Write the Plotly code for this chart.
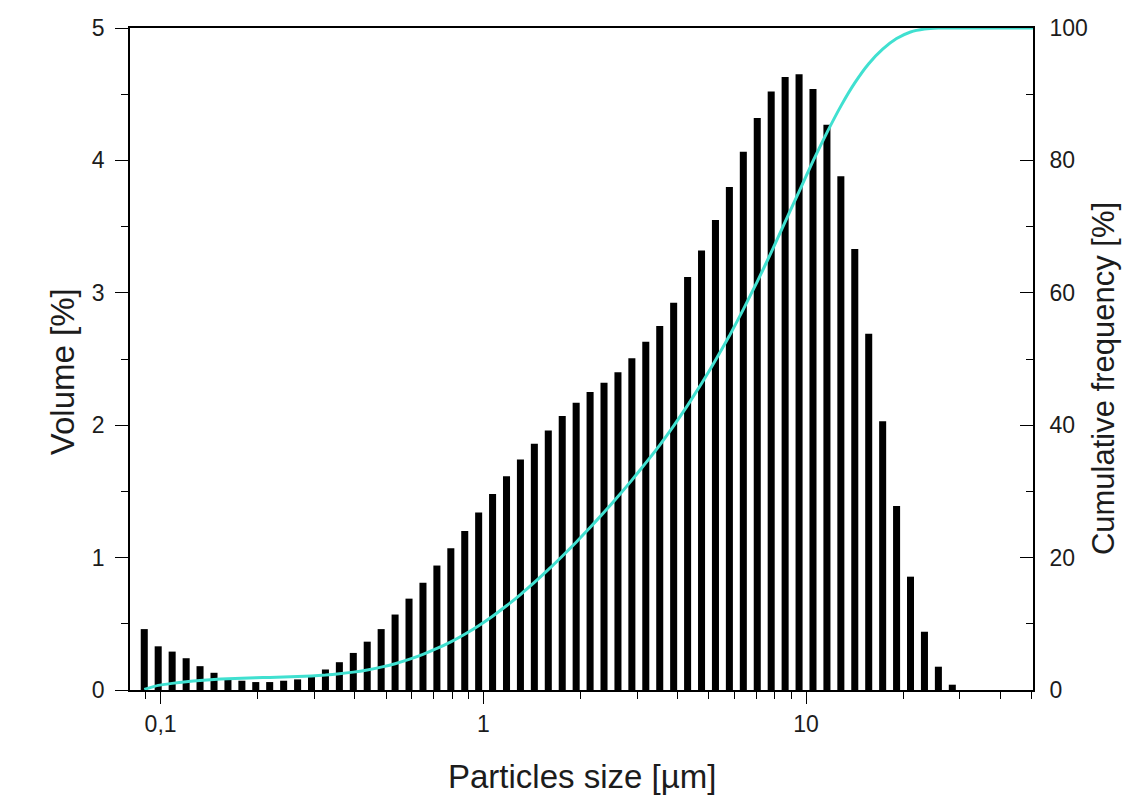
import plotly.graph_objects as go

# Particle size classes (bin centres, µm) and volume fraction per class (%)
particle_size_um = [
    0.0890, 0.0983, 0.1086, 0.1200, 0.1325, 0.1464, 0.1617, 0.1786, 0.1972, 0.2178,
    0.2406, 0.2658, 0.2935, 0.3242, 0.3581, 0.3955, 0.4368, 0.4825, 0.5329, 0.5886,
    0.6502, 0.7181, 0.7932, 0.8760, 0.9674, 1.0684, 1.1801, 1.3034, 1.4395, 1.5900,
    1.7563, 1.9398, 2.1425, 2.3664, 2.6138, 2.8865, 3.1880, 3.5215, 3.8893, 4.2961,
    4.7453, 5.2409, 5.7887, 6.3939, 7.0620, 7.8004, 8.6159, 9.5172, 10.510, 11.610,
    12.823, 14.162, 15.643, 17.279, 19.084, 21.079, 23.282, 25.716, 28.404,
]
volume_pct = [
    0.46, 0.33, 0.29, 0.24, 0.18, 0.13, 0.085, 0.07, 0.06, 0.06,
    0.07, 0.08, 0.10, 0.155, 0.21, 0.28, 0.365, 0.46, 0.57, 0.69,
    0.81, 0.94, 1.07, 1.20, 1.34, 1.48, 1.615, 1.74, 1.86, 1.96,
    2.07, 2.17, 2.25, 2.32, 2.40, 2.505, 2.63, 2.75, 2.925, 3.12,
    3.32, 3.55, 3.80, 4.065, 4.32, 4.52, 4.63, 4.65, 4.54, 4.27,
    3.88, 3.33, 2.69, 2.03, 1.39, 0.856, 0.44, 0.176, 0.04,
]

# Cumulative undersize curve (%), sampled at the class centres and beyond
cum_size_um = particle_size_um + [31.37, 34.65, 38.28, 42.28, 46.70, 50.5]
cumulative_pct = [
    0.1, 0.7, 1.0, 1.25, 1.45, 1.6, 1.7, 1.78, 1.84, 1.9,
    1.96, 2.04, 2.13, 2.26, 2.45, 2.7, 3.03, 3.45, 3.97, 4.62,
    5.38, 6.27, 7.28, 8.43, 9.72, 11.15, 12.72, 14.42, 16.24, 18.17,
    20.2, 22.33, 24.55, 26.85, 29.22, 31.7, 34.3, 37.0, 39.9, 43.0,
    46.3, 49.8, 53.5, 57.5, 61.7, 66.1, 70.7, 75.3, 79.9, 84.2,
    88.2, 91.7, 94.6, 96.8, 98.4, 99.4, 99.85, 100, 100,
    100, 100, 100, 100, 100, 100,
]

# Bars are drawn with a constant width in log space around each class centre
half_ratio = 10 ** 0.0109
bar_offset = [s / half_ratio - s for s in particle_size_um]
bar_width = [s * half_ratio - s / half_ratio for s in particle_size_um]

FONT = "Liberation Sans, Arial, Helvetica, sans-serif"
INK = "#1c1c1c"
TICK_SIZE = 23
TITLE_SIZE = 33

fig = go.Figure()
fig.add_trace(go.Bar(
    x=particle_size_um, y=volume_pct,
    width=bar_width, offset=bar_offset,
    marker=dict(color="black", line=dict(width=0)),
    yaxis="y", name="Volume",
))
fig.add_trace(go.Scatter(
    x=cum_size_um, y=cumulative_pct,
    mode="lines",
    line=dict(color="#40E0D0", width=3, shape="spline", smoothing=0.5),
    yaxis="y2", name="Cumulative frequency",
))

axis_common = dict(
    showgrid=False, zeroline=False, showline=True,
    linecolor="black", linewidth=1.6,
    tickcolor="black", tickwidth=1.4,
    tickfont=dict(family=FONT, size=TICK_SIZE, color=INK),
)

fig.update_layout(
    width=1127, height=797,
    margin=dict(l=130, r=94, t=28, b=107),
    paper_bgcolor="white", plot_bgcolor="white",
    separators=",.",
    showlegend=False,
    font=dict(family=FONT, size=TICK_SIZE, color=INK),
    xaxis=dict(
        type="log", range=[-1.0948, 1.7034],
        tickmode="linear", tick0=0, dtick=1,
        ticks="outside", ticklen=12, mirror=True,
        ticklabelstandoff=1,
        minor=dict(ticks="outside", ticklen=7, dtick="D1",
                   tickcolor="black", tickwidth=1.2, showgrid=False),
        **axis_common,
    ),
    yaxis=dict(
        range=[0, 5], tickmode="linear", tick0=0, dtick=1,
        ticks="outside", ticklen=13, ticklabelstandoff=6,
        minor=dict(ticks="outside", ticklen=7, dtick=0.5,
                   tickcolor="black", tickwidth=1.2, showgrid=False),
        **axis_common,
    ),
    yaxis2=dict(
        range=[0, 100], tickmode="linear", tick0=0, dtick=20,
        overlaying="y", side="right", anchor="x",
        ticks="inside", ticklen=13, ticklabelstandoff=10,
        minor=dict(ticks="inside", ticklen=7, dtick=10,
                   tickcolor="black", tickwidth=1.2, showgrid=False),
        **axis_common,
    ),
    annotations=[
        dict(text="Particles size [µm]", xref="paper", yref="paper",
             x=0.5, y=-0.130, xanchor="center", yanchor="middle",
             showarrow=False,
             font=dict(family=FONT, size=TITLE_SIZE, color=INK)),
        dict(text="Volume [%]", xref="paper", yref="paper",
             x=-0.0753, y=0.48, xanchor="center", yanchor="middle",
             textangle=-90, showarrow=False,
             font=dict(family=FONT, size=TITLE_SIZE, color=INK)),
        dict(text="Cumulative frequency [%]", xref="paper", yref="paper",
             x=1.1005, y=0.47, xanchor="right", yanchor="middle",
             textangle=-90, showarrow=False,
             font=dict(family=FONT, size=31, color=INK)),
    ],
)

fig.write_html("out.html")
